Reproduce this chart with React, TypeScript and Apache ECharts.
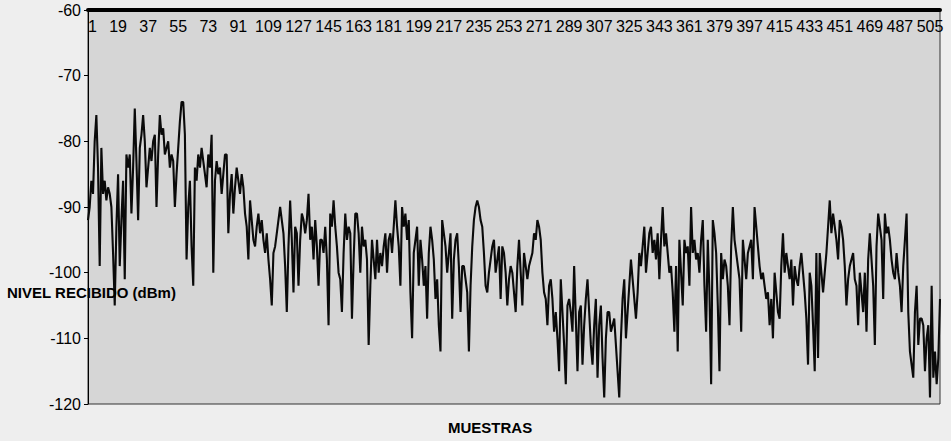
import React, { useEffect, useRef } from 'react';
import * as echarts from 'echarts';

// Nivel recibido (dBm) por muestra (18 muestras por fila)
const nivelRecibido: number[] = [
  -92, -90, -86, -88, -80, -76, -84, -99, -81, -88, -86, -89, -87, -88, -90, -97, -105, -93,
  -85, -99, -92, -86, -101, -82, -84, -82, -91, -84, -75, -83, -92, -81, -79, -76, -80, -87,
  -84, -81, -83, -80, -79, -90, -82, -76, -79, -78, -82, -81, -80, -84, -82, -83, -90, -85,
  -81, -77, -74, -74, -79, -98, -90, -86, -96, -102, -84, -86, -82, -84, -81, -83, -85, -87,
  -82, -84, -79, -100, -86, -83, -85, -84, -88, -85, -82, -82, -94, -88, -85, -91, -87, -84,
  -86, -88, -85, -87, -91, -93, -98, -89, -92, -95, -96, -93, -91, -94, -92, -95, -97, -94,
  -98, -101, -105, -97, -96, -94, -92, -90, -92, -94, -99, -106, -96, -89, -95, -103, -93, -94,
  -102, -95, -91, -92, -94, -92, -88, -95, -93, -98, -92, -96, -102, -95, -95, -97, -93, -98,
  -108, -91, -93, -89, -93, -96, -100, -101, -106, -97, -91, -95, -93, -94, -107, -98, -91, -91,
  -94, -100, -93, -96, -95, -98, -111, -102, -95, -98, -101, -95, -100, -97, -99, -96, -94, -100,
  -95, -94, -97, -93, -89, -93, -96, -102, -90, -93, -91, -95, -92, -103, -110, -97, -95, -93,
  -102, -95, -98, -102, -99, -107, -97, -93, -95, -98, -104, -101, -108, -112, -92, -94, -96, -100,
  -97, -94, -107, -98, -95, -94, -99, -106, -99, -99, -101, -103, -112, -102, -96, -92, -90, -89,
  -90, -92, -93, -97, -102, -103, -100, -98, -96, -95, -100, -98, -96, -104, -96, -97, -100, -105,
  -101, -99, -100, -103, -106, -99, -95, -100, -105, -97, -99, -101, -99, -98, -97, -94, -95, -92,
  -93, -95, -100, -103, -104, -108, -102, -101, -104, -109, -106, -110, -115, -101, -106, -111, -117, -105,
  -104, -106, -109, -99, -107, -115, -106, -105, -114, -108, -104, -101, -106, -111, -114, -108, -104, -116,
  -108, -105, -113, -119, -110, -106, -106, -109, -108, -107, -111, -115, -119, -110, -104, -101, -110, -106,
  -102, -98, -101, -104, -107, -103, -97, -99, -96, -93, -100, -97, -94, -93, -97, -95, -98, -94,
  -101, -95, -90, -96, -94, -97, -100, -99, -103, -109, -99, -112, -95, -100, -105, -95, -97, -96,
  -102, -90, -97, -95, -98, -97, -100, -95, -92, -102, -109, -95, -103, -117, -92, -94, -97, -105,
  -115, -97, -101, -98, -99, -102, -108, -96, -90, -95, -97, -99, -101, -109, -95, -98, -101, -97,
  -96, -95, -101, -90, -93, -96, -99, -101, -100, -102, -104, -103, -108, -104, -110, -100, -103, -106,
  -107, -99, -94, -100, -97, -99, -101, -98, -105, -99, -101, -102, -99, -97, -100, -103, -107, -114,
  -100, -102, -108, -115, -97, -113, -97, -100, -103, -100, -97, -93, -89, -94, -91, -93, -95, -98,
  -92, -93, -95, -99, -105, -101, -99, -98, -97, -101, -102, -108, -100, -103, -106, -100, -109, -98,
  -94, -98, -102, -111, -96, -91, -93, -95, -104, -91, -94, -93, -95, -98, -100, -101, -97, -100,
  -102, -106, -99, -95, -91, -106, -112, -114, -116, -106, -102, -111, -107, -107, -108, -115, -110, -108,
  -119, -102, -116, -112, -117, -113, -104,
];

// Muestras: 1 .. N
const muestras: string[] = nivelRecibido.map((_, i) => String(i + 1));

const yMin = -120;
const yMax = -60;
const yStep = 10;
const labelStep = 18;

const tituloY = 'NIVEL RECIBIDO (dBm)';
const tituloX = 'MUESTRAS';

const FONT = '"Liberation Sans", Arial, sans-serif';

export default function App() {
  const ref = useRef<HTMLDivElement>(null);

  useEffect(() => {
    if (!ref.current) return;
    const chart = echarts.init(ref.current, undefined, { renderer: 'svg' });
    chart.setOption({
      animation: false,
      backgroundColor: '#eeeeee',
      grid: {
        left: 88,
        right: 11,
        top: 10,
        bottom: 37,
        show: true,
        backgroundColor: '#d6d6d6',
        borderColor: '#333',
        borderWidth: 1,
      },
      xAxis: {
        type: 'category',
        data: muestras,
        position: 'top',
        boundaryGap: false,
        axisLine: { show: true, lineStyle: { color: '#000', width: 4 } },
        axisTick: { show: false },
        splitLine: { show: false },
        axisLabel: {
          inside: true,
          interval: labelStep - 1,
          margin: 8,
          color: '#000',
          fontSize: 16,
          fontFamily: FONT,
          alignMinLabel: 'left',
        },
      },
      yAxis: {
        type: 'value',
        min: yMin,
        max: yMax,
        interval: yStep,
        axisLine: { show: true, lineStyle: { color: '#000', width: 1 } },
        axisTick: { show: true, length: 4, lineStyle: { color: '#000' } },
        splitLine: { show: false },
        axisLabel: { color: '#000', fontSize: 16, fontFamily: FONT, margin: 7 },
      },
      series: [
        {
          type: 'line',
          data: nivelRecibido,
          showSymbol: false,
          silent: true,
          lineStyle: { color: '#0a0a0a', width: 2.1 },
        },
      ],
      graphic: [
        {
          type: 'text',
          left: 7,
          top: 285,
          z: 100,
          style: { text: tituloY, font: `bold 15px ${FONT}`, fill: '#000' },
        },
        {
          type: 'text',
          left: 448,
          top: 420,
          z: 100,
          style: { text: tituloX, font: `bold 15px ${FONT}`, fill: '#000' },
        },
      ],
    });
    return () => chart.dispose();
  }, []);

  return (
    <div
      ref={ref}
      style={{ position: 'absolute', left: 0, top: 0, width: 951, height: 441 }}
    />
  );
}
